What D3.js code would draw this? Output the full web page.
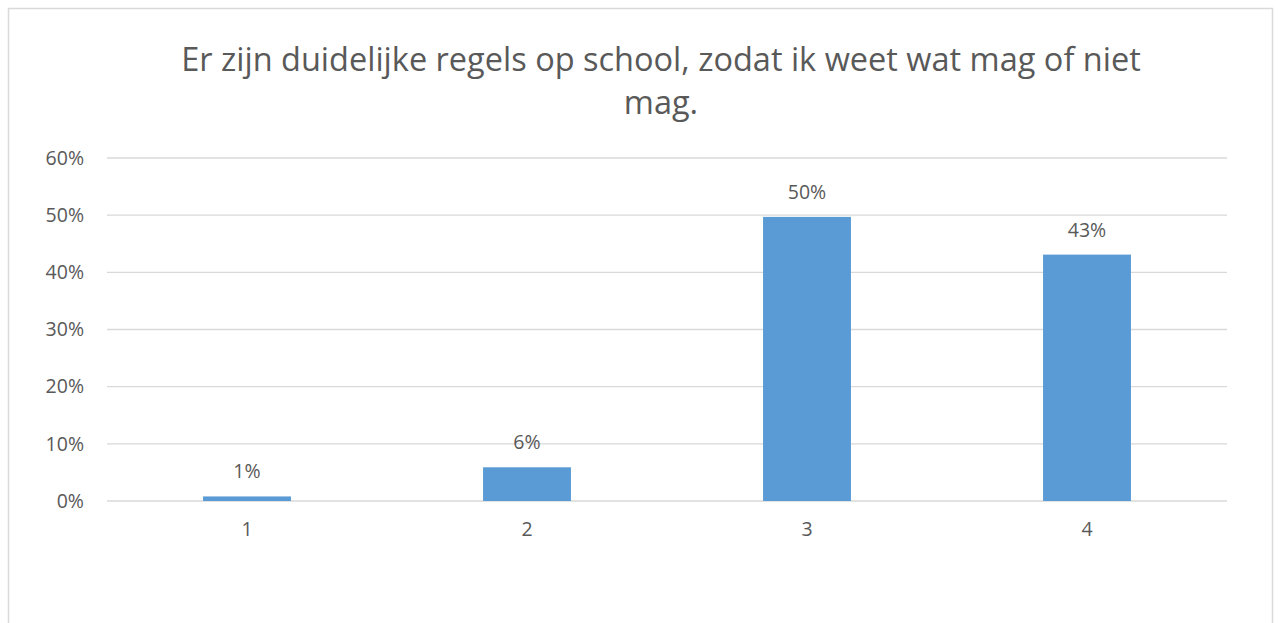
<!DOCTYPE html>
<html>
<head>
<meta charset="utf-8">
<script src="https://cdn.jsdelivr.net/npm/d3@7"></script>
<style>
  body { margin: 0; background: #fff; }
  text { font-family: "Open Sans", sans-serif; fill: #595959; }
</style>
</head>
<body>
<svg width="1278" height="623"></svg>
<script>
// data
var categories = ['1', '2', '3', '4'];
var values = [0.008, 0.059, 0.497, 0.431];
var yTicks = [0, 0.1, 0.2, 0.3, 0.4, 0.5, 0.6];
var titleLines = ['Er zijn duidelijke regels op school, zodat ik weet wat mag of niet', 'mag.'];

var svg = d3.select('svg');
var width = +svg.attr('width');
var height = +svg.attr('height');

var margin = { left: 107, right: 51, top: 158, bottom: 122 };

// chart frame
svg.append('rect')
    .attr('x', 8.5)
    .attr('y', 8.5)
    .attr('width', 1264)
    .attr('height', 700)
    .attr('fill', '#fff')
    .attr('stroke', '#d9d9d9')
    .attr('stroke-width', 1.5);

var x = d3.scaleBand()
    .domain(categories)
    .range([margin.left, width - margin.right])
    .paddingInner(0.686)
    .paddingOuter(0.343);

var y = d3.scaleLinear()
    .domain([0, 0.6])
    .range([501, margin.top]);

// gridlines
svg.append('g')
    .attr('class', 'grid')
    .selectAll('line')
    .data(yTicks)
    .enter()
    .append('line')
    .attr('x1', margin.left)
    .attr('x2', width - margin.right)
    .attr('y1', function(d) { return y(d); })
    .attr('y2', function(d) { return y(d); })
    .attr('stroke', '#d9d9d9')
    .attr('stroke-width', 1.3);

// y axis labels
var yAxis = d3.axisLeft(y)
    .tickValues(yTicks)
    .tickFormat(d3.format('.0%'))
    .tickSize(0)
    .tickPadding(23);

var yG = svg.append('g')
    .attr('transform', 'translate(' + margin.left + ',0)')
    .call(yAxis);
yG.select('.domain').remove();
yG.selectAll('text')
    .style('font-size', '19.5px')
    .attr('fill', '#595959');

// x axis labels
var xAxis = d3.axisBottom(x).tickSize(0).tickPadding(21);
var xG = svg.append('g')
    .attr('transform', 'translate(0,' + y(0) + ')')
    .call(xAxis);
xG.select('.domain').remove();
xG.selectAll('text')
    .style('font-size', '19.5px')
    .attr('fill', '#595959');

// bars
svg.append('g')
    .selectAll('rect')
    .data(values)
    .enter()
    .append('rect')
    .attr('x', function(d, i) { return x(categories[i]); })
    .attr('width', x.bandwidth())
    .attr('y', function(d) { return y(d); })
    .attr('height', function(d) { return y(0) - y(d); })
    .attr('fill', '#5b9bd5');

// value labels
svg.append('g')
    .selectAll('text')
    .data(values)
    .enter()
    .append('text')
    .attr('x', function(d, i) { return x(categories[i]) + x.bandwidth() / 2; })
    .attr('y', function(d) { return y(d) - 18; })
    .attr('text-anchor', 'middle')
    .style('font-size', '19.5px')
    .text(function(d) { return d3.format('.0%')(d); });

// title
var title = svg.append('text')
    .attr('text-anchor', 'middle')
    .style('font-size', '32.5px');
title.selectAll('tspan')
    .data(titleLines)
    .enter()
    .append('tspan')
    .attr('x', 661)
    .attr('y', function(d, i) { return 71 + i * 43; })
    .text(function(d) { return d; });
</script>
</body>
</html>
